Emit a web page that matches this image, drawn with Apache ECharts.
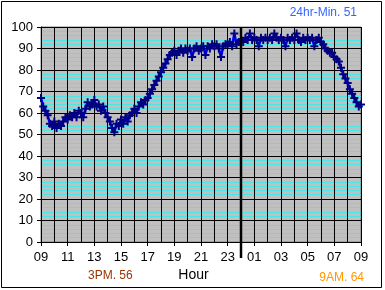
<!DOCTYPE html>
<html><head><meta charset="utf-8">
<script src="https://cdn.jsdelivr.net/npm/echarts@6/dist/echarts.min.js"></script>
<style>html,body{margin:0;padding:0;background:#fff}#c{width:385px;height:290px}</style>
</head><body><div id="c"></div>
<script>
// 10-minute readings from 09:00 to 09:00 next day
const startHour = 9;
const stepMinutes = 10;
const values = [
  67, 63, 61, 59, 55, 54,
  56, 53, 55, 54, 56, 58,
  57, 59, 58, 60, 58, 61,
  60, 58, 62, 65, 63, 64,
  66, 63, 64, 61, 63, 60,
  58, 56, 53, 51, 55, 54,
  57, 55, 58, 56, 59, 60,
  62, 60, 63, 65, 64, 66,
  67, 69, 71, 73, 75, 77,
  79, 81, 83, 85, 87, 88,
  89, 87, 89, 90, 88, 90,
  89, 90, 86, 90, 91, 89,
  90, 91, 87, 91, 90, 92,
  91, 92, 90, 86, 91, 92,
  92, 93, 91, 97, 92, 93,
  94, 93, 95, 94, 97, 94,
  95, 94, 91, 95, 94, 95,
  94, 95, 94, 97, 95, 94,
  95, 94, 91, 95, 94, 95,
  94, 97, 94, 93, 95, 94,
  95, 94, 95, 91, 94, 95,
  93, 92, 90, 89, 88, 88,
  86, 85, 84, 81, 78, 76,
  74, 71, 69, 67, 65, 63,
  64
];
const categories = values.map((_, i) => {
  const m = startHour * 60 + i * stepMinutes;
  const h = Math.floor(m / 60) % 24, mm = m % 60;
  return String(h).padStart(2, '0') + ':' + String(mm).padStart(2, '0');
});
const yTicks = [0, 100, 10];
const midnightCategory = '00:00';
const notes = [
  { text: '24hr-Min. 51', color: '#3366ff' },
  { text: '3PM. 56', color: '#993300' },
  { text: '9AM. 64', color: '#ff9900' }
];
const axisName = 'Hour';

const chart = echarts.init(document.getElementById('c'), null, { renderer: 'canvas' });
const font = 'Liberation Sans, Arial, sans-serif';
chart.setOption({
  animation: false,
  backgroundColor: '#ffffff',
  textStyle: { fontFamily: font },
  grid: { left: 41, right: 24, top: 27, bottom: 48, show: true,
          backgroundColor: '#c0c0c0', borderColor: '#808080', borderWidth: 1 },
  xAxis: {
    type: 'category', data: categories, boundaryGap: false, z: 1,
    axisLine: { lineStyle: { color: '#000', width: 1 } },
    axisTick: { interval: 11, length: 4, lineStyle: { color: '#000' } },
    axisLabel: { interval: 11, margin: 9, color: '#000', fontSize: 13, fontFamily: font,
                 formatter: v => v.slice(0, 2) },
    splitLine: { show: true, interval: 5, lineStyle: { color: '#000', width: 1 } }
  },
  yAxis: {
    type: 'value', min: yTicks[0], max: yTicks[1], interval: yTicks[2], z: 0,
    axisLine: { show: true, lineStyle: { color: '#000', width: 1 } },
    axisTick: { show: true, length: 4, lineStyle: { color: '#000' } },
    axisLabel: { margin: 8, color: '#000', fontSize: 13, fontFamily: font },
    splitLine: { show: true, lineStyle: { color: '#000', width: 1 } },
    minorTick: { show: false, splitNumber: 5 },
    minorSplitLine: { show: true, lineStyle: { color: '#00ffff', width: 1, opacity: 0.6 } }
  },
  series: [{
    type: 'line', data: values, z: 3,
    lineStyle: { color: '#0000ff', width: 2.5 },
    symbol: 'path://M3,0H5V3H8V5H5V8H3V5H0V3H3Z', symbolSize: 8,
    showSymbol: true, showAllSymbol: true,
    itemStyle: { color: '#000080' }
  }]
});

function drawExtras() {
  const top = chart.convertToPixel({ yAxisIndex: 0 }, yTicks[1]);
  const xm = chart.convertToPixel({ xAxisIndex: 0 }, midnightCategory);
  chart.setOption({
    graphic: [
      { type: 'rect', shape: { x: 1.5, y: 1.5, width: 380, height: 286 },
        style: { fill: null, stroke: '#000', lineWidth: 1 }, silent: true, z: 100 },
      { type: 'line', shape: { x1: xm, y1: top, x2: xm, y2: 258 },
        style: { stroke: '#000', lineWidth: 2.5 }, z: 100 },
      { type: 'text', x: 357, y: 13, style: { text: notes[0].text, fill: notes[0].color,
        font: '12px ' + font, textAlign: 'right', textVerticalAlign: 'middle' }, z: 100 },
      { type: 'text', x: 88, y: 276, style: { text: notes[1].text, fill: notes[1].color,
        font: '12px ' + font, textAlign: 'left', textVerticalAlign: 'middle' }, z: 100 },
      { type: 'text', x: 364, y: 277.5, style: { text: notes[2].text, fill: notes[2].color,
        font: '12px ' + font, textAlign: 'right', textVerticalAlign: 'middle' }, z: 100 },
      { type: 'text', x: 193.5, y: 275, style: { text: axisName, fill: '#000',
        font: '14px ' + font, textAlign: 'center', textVerticalAlign: 'middle' }, z: 100 }
    ]
  });
}
drawExtras();
</script>
</body></html>
